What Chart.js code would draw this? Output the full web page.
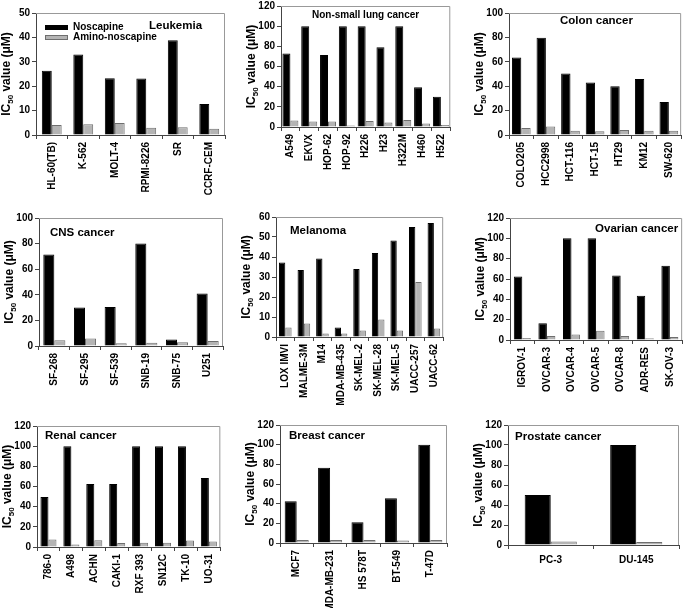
<!DOCTYPE html>
<html>
<head>
<meta charset="utf-8">
<script src="https://cdn.jsdelivr.net/npm/chart.js@4.4.1/dist/chart.umd.min.js"></script>
<style>
  body { margin: 0; background: #fff; width: 685px; height: 608px; position: relative; overflow: hidden; }
  .panel { position: absolute; }
</style>
</head>
<body>
<script>
// series names
const seriesNames = ['Noscapine', 'Amino-noscapine'];

// Leukemia
const leukemiaLabels = ['HL-60(TB)', 'K-562', 'MOLT-4', 'RPMI-8226', 'SR', 'CCRF-CEM'];
const leukemiaNos = [26.3, 33, 23.3, 23.2, 38.8, 12.7];
const leukemiaAmino = [4.1, 4.4, 4.9, 3.0, 3.2, 2.6];

// Non-small lung cancer
const lungLabels = ['A549', 'EKVX', 'HOP-62', 'HOP-92', 'H226', 'H23', 'H322M', 'H460', 'H522'];
const lungNos = [73, 100, 71.5, 100, 100, 79, 100, 39.5, 30];
const lungAmino = [6.5, 5.5, 5.5, 1.5, 6, 4.5, 7, 3.5, 2];

// Colon cancer
const colonLabels = ['COLO205', 'HCC2998', 'HCT-116', 'HCT-15', 'HT29', 'KM12', 'SW-620'];
const colonNos = [63.5, 79.8, 50.5, 43, 40, 46, 27];
const colonAmino = [5.8, 7, 3.5, 3, 4, 3.5, 3.5];

// CNS cancer
const cnsLabels = ['SF-268', 'SF-295', 'SF-539', 'SNB-19', 'SNB-75', 'U251'];
const cnsNos = [71.5, 30, 30.5, 80, 5, 41];
const cnsAmino = [4.5, 5.8, 2.2, 2.5, 3, 4];

// Melanoma
const melLabels = ['LOX IMVI', 'MALME-3M', 'M14', 'MDA-MB-435', 'SK-MEL-2', 'SK-MEL-28', 'SK-MEL-5', 'UACC-257', 'UACC-62'];
const melNos = [37.2, 33.5, 39.2, 4.8, 34, 42, 48.3, 55, 57];
const melAmino = [4.8, 6.7, 1.8, 1.8, 3.3, 8.7, 3.2, 27.5, 4.2];

// Ovarian cancer
const ovLabels = ['IGROV-1', 'OVCAR-3', 'OVCAR-4', 'OVCAR-5', 'OVCAR-8', 'ADR-RES', 'SK-OV-3'];
const ovNos = [62.5, 16.5, 100, 100, 63.5, 43.5, 73];
const ovAmino = [2, 4, 5.5, 9, 4, 1.8, 3];

// Renal cancer
const renalLabels = ['786-0', 'A498', 'ACHN', 'CAKI-1', 'RXF 393', 'SN12C', 'TK-10', 'UO-31'];
const renalNos = [49.5, 100, 62.5, 62.5, 100, 100, 100, 68.5];
const renalAmino = [7.5, 2.5, 6.8, 4, 4.3, 4.3, 6.5, 5.5];

// Breast cancer
const breastLabels = ['MCF7', 'MDA-MB-231', 'HS 578T', 'BT-549', 'T-47D'];
const breastNos = [42.5, 76.5, 21, 45.5, 100];
const breastAmino = [3, 3, 3, 2.5, 3];

// Prostate cancer
const prostateLabels = ['PC-3', 'DU-145'];
const prostateNos = [50, 100];
const prostateAmino = [3.5, 3];

// y axis ranges
const yMax = [50, 120, 100, 100, 60, 120, 120, 120, 120];
const yStep = [10, 20, 20, 20, 10, 20, 20, 20, 20];

// panel layout: plot box [left, top, right, bottom], title offset in the plot, bar group width
const panels = [
  { title: 'Leukemia', labels: leukemiaLabels, nos: leukemiaNos, amino: leukemiaAmino, box: [36, 11, 225, 135], t: [113, 13], cp: 0.63, legend: true },
  { title: 'Non-small lung cancer', labels: lungLabels, nos: lungNos, amino: lungAmino, box: [281, 4, 454, 127], t: [31, 9], cp: 0.85, tsize: 10 },
  { title: 'Colon cancer', labels: colonLabels, nos: colonNos, amino: colonAmino, box: [509, 11, 682, 135], t: [51, 8], cp: 0.76 },
  { title: 'CNS cancer', labels: cnsLabels, nos: cnsNos, amino: cnsAmino, box: [39, 216, 223, 346], t: [11, 15], cp: 0.72 },
  { title: 'Melanoma', labels: melLabels, nos: melNos, amino: melAmino, box: [276, 215, 447, 337], t: [14, 14], cp: 0.68 },
  { title: 'Ovarian cancer', labels: ovLabels, nos: ovNos, amino: ovAmino, box: [510, 216, 683, 340], t: [-4, 11], cp: 0.69, right: true },
  { title: 'Renal cancer', labels: renalLabels, nos: renalNos, amino: renalAmino, box: [37, 424, 222, 547], t: [8, 10], cp: 0.7 },
  { title: 'Breast cancer', labels: breastLabels, nos: breastNos, amino: breastAmino, box: [280, 423, 447, 543], t: [9, 11], cp: 0.72 },
  { title: 'Prostate cancer', labels: prostateLabels, nos: prostateNos, amino: prostateAmino, box: [508, 423, 679, 545], t: [7, 12], cp: 0.61, flat: true }
];

const FONT = '"Liberation Sans", Arial, sans-serif';
const ML = 40, MT = 6, MR = 2, MB = 75;

const panelDeco = {
  id: 'panelDeco',
  afterDraw(chart, args, opts) {
    const ctx = chart.ctx;
    const a = chart.chartArea;
    ctx.save();
    // frame top + right
    ctx.strokeStyle = '#999';
    ctx.lineWidth = 1;
    ctx.beginPath();
    ctx.moveTo(a.left, a.top + 0.5);
    ctx.lineTo(a.right - 0.5, a.top + 0.5);
    ctx.lineTo(a.right - 0.5, a.bottom);
    ctx.stroke();

    // panel title
    ctx.fillStyle = '#000';
    ctx.font = 'bold ' + (opts.tsize || 11.5) + 'px ' + FONT;
    ctx.textBaseline = 'middle';
    if (opts.right) {
      ctx.textAlign = 'right';
      ctx.fillText(opts.title, a.right + opts.t[0], a.top + opts.t[1]);
    } else {
      ctx.textAlign = 'left';
      ctx.fillText(opts.title, a.left + opts.t[0], a.top + opts.t[1]);
    }

    // y axis title with subscript
    ctx.textAlign = 'left';
    ctx.translate(a.left - 29, (a.top + a.bottom) / 2);
    ctx.rotate(-Math.PI / 2);
    const big = 'bold 12px ' + FONT, small = 'bold 8px ' + FONT;
    ctx.font = big;
    const w1 = ctx.measureText('IC').width;
    const w3 = ctx.measureText(' value (\u03bcM)').width;
    ctx.font = small;
    const w2 = ctx.measureText('50').width;
    let x = -(w1 + w2 + w3) / 2;
    ctx.font = big;
    ctx.fillText('IC', x, 0);
    x += w1;
    ctx.font = small;
    ctx.fillText('50', x, 4);
    x += w2;
    ctx.font = big;
    ctx.fillText(' value (\u03bcM)', x, 0);
    ctx.restore();

    // legend
    if (opts.legend) {
      ctx.save();
      ctx.font = 'bold 10px ' + FONT;
      ctx.textBaseline = 'middle';
      chart.data.datasets.forEach((ds, i) => {
        const y = a.top + 12 + i * 10;
        ctx.fillStyle = ds.backgroundColor;
        ctx.fillRect(a.left + 9, y, 23, 5);
        ctx.strokeStyle = ds.borderColor;
        ctx.strokeRect(a.left + 9.5, y + 0.5, 22, 4);
        ctx.fillStyle = '#000';
        ctx.fillText(ds.label, a.left + 37, y + 2.5);
      });
      ctx.restore();
    }
  }
};

panels.forEach((p, i) => {
  const [L, T, R, B] = p.box;
  const w = R - L + ML + MR, h = B - T + MT + MB;
  const div = document.createElement('div');
  div.className = 'panel';
  div.style.left = (L - ML) + 'px';
  div.style.top = (T - MT) + 'px';
  const c = document.createElement('canvas');
  c.width = w;
  c.height = h;
  div.appendChild(c);
  document.body.appendChild(div);

  const rot = p.flat ? 0 : 90;

  new Chart(c, {
    type: 'bar',
    data: {
      labels: p.labels,
      datasets: [
        { label: seriesNames[0], data: p.nos, backgroundColor: '#000', borderColor: '#000', borderWidth: 1,
          categoryPercentage: p.cp, barPercentage: 1 },
        { label: seriesNames[1], data: p.amino, backgroundColor: '#b4b4b4', borderColor: '#6e6e6e', borderWidth: 1,
          categoryPercentage: p.cp, barPercentage: 1 }
      ]
    },
    options: {
      responsive: false,
      animation: false,
      layout: { padding: { left: 0, top: MT, right: MR, bottom: 0 } },
      plugins: {
        legend: { display: false },
        tooltip: { enabled: false },
        panelDeco: { title: p.title, t: p.t, tsize: p.tsize, right: p.right, legend: p.legend }
      },
      scales: {
        x: {
          grid: { drawOnChartArea: false, tickLength: 4, color: '#444', offset: true },
          border: { color: '#444' },
          ticks: { color: '#000', font: { family: FONT, weight: 'bold', size: 10 },
                   minRotation: rot, maxRotation: rot, autoSkip: false, padding: p.flat ? 5 : 3 },
          afterFit: s => { s.height = MB; }
        },
        y: {
          min: 0,
          max: yMax[i],
          grid: { drawOnChartArea: false, tickLength: 4, color: '#444' },
          border: { color: '#444' },
          ticks: { stepSize: yStep[i], color: '#000', font: { family: FONT, weight: 'bold', size: 10 }, padding: 2 },
          afterFit: s => { s.width = ML; }
        }
      }
    },
    plugins: [panelDeco]
  });
});
</script>
</body>
</html>
